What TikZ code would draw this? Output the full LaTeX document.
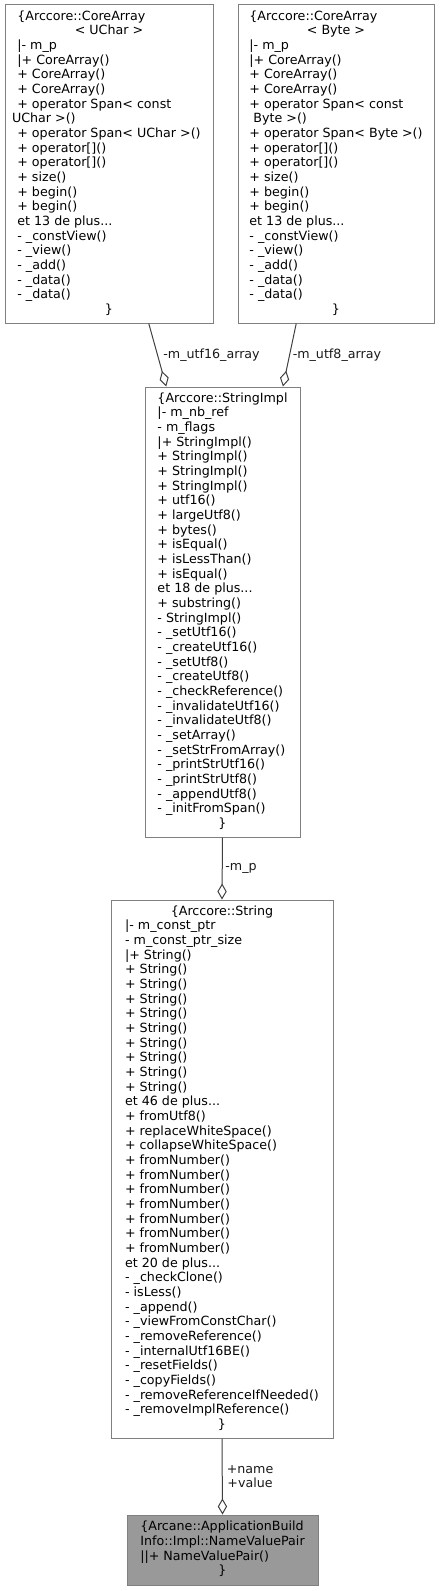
\documentclass[tikz,border=0pt]{standalone}
\usepackage{fontspec}
\setmainfont{DejaVu Sans}
\usetikzlibrary{arrows.meta}

\definecolor{edgegray}{HTML}{404040}
\definecolor{boxgray}{HTML}{808080}
\definecolor{mainfill}{HTML}{999999}

\begin{document}
\begin{tikzpicture}[
    x=0.75pt, y=-0.75pt,
    cls/.style={rectangle, draw=boxgray, line width=0.75pt, fill=white, inner sep=0pt, font=\fontsize{9.5}{11}\selectfont},
    main/.style={cls, fill=mainfill},
    agg/.style={draw=edgegray, line width=0.75pt, -{Diamond[open, length=12pt, width=7pt]}},
    lbl/.style={font=\fontsize{9.5}{11}\selectfont, text=black!90, inner sep=2pt, align=center},
]
\useasboundingbox (0,0) rectangle (442,1591);

% CoreArray<UChar>
\node[cls, minimum width=156pt, minimum height=238.5pt] (uchar) at (109,164) {\begin{tabular}{@{}l@{}}
\{Arccore::CoreArray\\
\multicolumn{1}{@{}c@{}}{< UChar >}\\
|- m\_p\\
|+ CoreArray()\\
+ CoreArray()\\
+ CoreArray()\\
+ operator Span< const\\
\hspace*{-4pt}UChar >()\\
+ operator Span< UChar >()\\
+ operator[]()\\
+ operator[]()\\
+ size()\\
+ begin()\\
+ begin()\\
et 13 de plus...\\
- \_constView()\\
- \_view()\\
- \_add()\\
- \_data()\\
- \_data()\\
\multicolumn{1}{@{}c@{}}{\}}
\end{tabular}};

% CoreArray<Byte>
\node[cls, minimum width=147pt, minimum height=238.5pt] (byte) at (336,164) {\begin{tabular}{@{}l@{}}
\{Arccore::CoreArray\\
\multicolumn{1}{@{}c@{}}{< Byte >}\\
|- m\_p\\
|+ CoreArray()\\
+ CoreArray()\\
+ CoreArray()\\
+ operator Span< const\\
\ Byte >()\\
+ operator Span< Byte >()\\
+ operator[]()\\
+ operator[]()\\
+ size()\\
+ begin()\\
+ begin()\\
et 13 de plus...\\
- \_constView()\\
- \_view()\\
- \_add()\\
- \_data()\\
- \_data()\\
\multicolumn{1}{@{}c@{}}{\}}
\end{tabular}};

% StringImpl
\node[cls, minimum width=116.25pt, minimum height=337.5pt] (strimpl) at (222.5,612) {\begin{tabular}{@{}l@{}}
\{Arccore::StringImpl\\
|- m\_nb\_ref\\
- m\_flags\\
|+ StringImpl()\\
+ StringImpl()\\
+ StringImpl()\\
+ StringImpl()\\
+ utf16()\\
+ largeUtf8()\\
+ bytes()\\
+ isEqual()\\
+ isLessThan()\\
+ isEqual()\\
et 18 de plus...\\
+ substring()\\
- StringImpl()\\
- \_setUtf16()\\
- \_createUtf16()\\
- \_setUtf8()\\
- \_createUtf8()\\
- \_checkReference()\\
- \_invalidateUtf16()\\
- \_invalidateUtf8()\\
- \_setArray()\\
- \_setStrFromArray()\\
- \_printStrUtf16()\\
- \_printStrUtf8()\\
- \_appendUtf8()\\
- \_initFromSpan()\\
\multicolumn{1}{@{}c@{}}{\}}
\end{tabular}};

% String
\node[cls, minimum width=166.5pt, minimum height=403.5pt] (string) at (222,1169) {\begin{tabular}{@{}l@{}}
\multicolumn{1}{@{}c@{}}{\{Arccore::String}\\
|- m\_const\_ptr\\
- m\_const\_ptr\_size\\
|+ String()\\
+ String()\\
+ String()\\
+ String()\\
+ String()\\
+ String()\\
+ String()\\
+ String()\\
+ String()\\
+ String()\\
et 46 de plus...\\
+ fromUtf8()\\
+ replaceWhiteSpace()\\
+ collapseWhiteSpace()\\
+ fromNumber()\\
+ fromNumber()\\
+ fromNumber()\\
+ fromNumber()\\
+ fromNumber()\\
+ fromNumber()\\
+ fromNumber()\\
et 20 de plus...\\
- \_checkClone()\\
- isLess()\\
- \_append()\\
- \_viewFromConstChar()\\
- \_removeReference()\\
- \_internalUtf16BE()\\
- \_resetFields()\\
- \_copyFields()\\
- \_removeReferenceIfNeeded()\\
- \_removeImplReference()\\
\multicolumn{1}{@{}c@{}}{\}}
\end{tabular}};

% NameValuePair
\node[main, minimum width=143.25pt, minimum height=52.5pt] (nvp) at (222.5,1550) {\begin{tabular}{@{}l@{}}
\{Arcane::ApplicationBuild\\
Info::Impl::NameValuePair\\
||+ NameValuePair()\\
\multicolumn{1}{@{}c@{}}{\}}
\end{tabular}};

% Members
\draw[agg] (uchar.-76) -- node[lbl, pos=0.5, right, xshift=2pt] {-m\_utf16\_array} (strimpl.104.8);
\draw[agg] (byte.-104) -- node[lbl, pos=0.5, right] {-m\_utf8\_array} (strimpl.75);
\draw[agg] (strimpl.south) -- node[lbl, pos=0.5, right] {-m\_p} (string.north);
\draw[agg] (string.south) -- node[lbl, pos=0.5, right, xshift=1pt] {+name\\+value} (nvp.north);

\end{tikzpicture}
\end{document}
